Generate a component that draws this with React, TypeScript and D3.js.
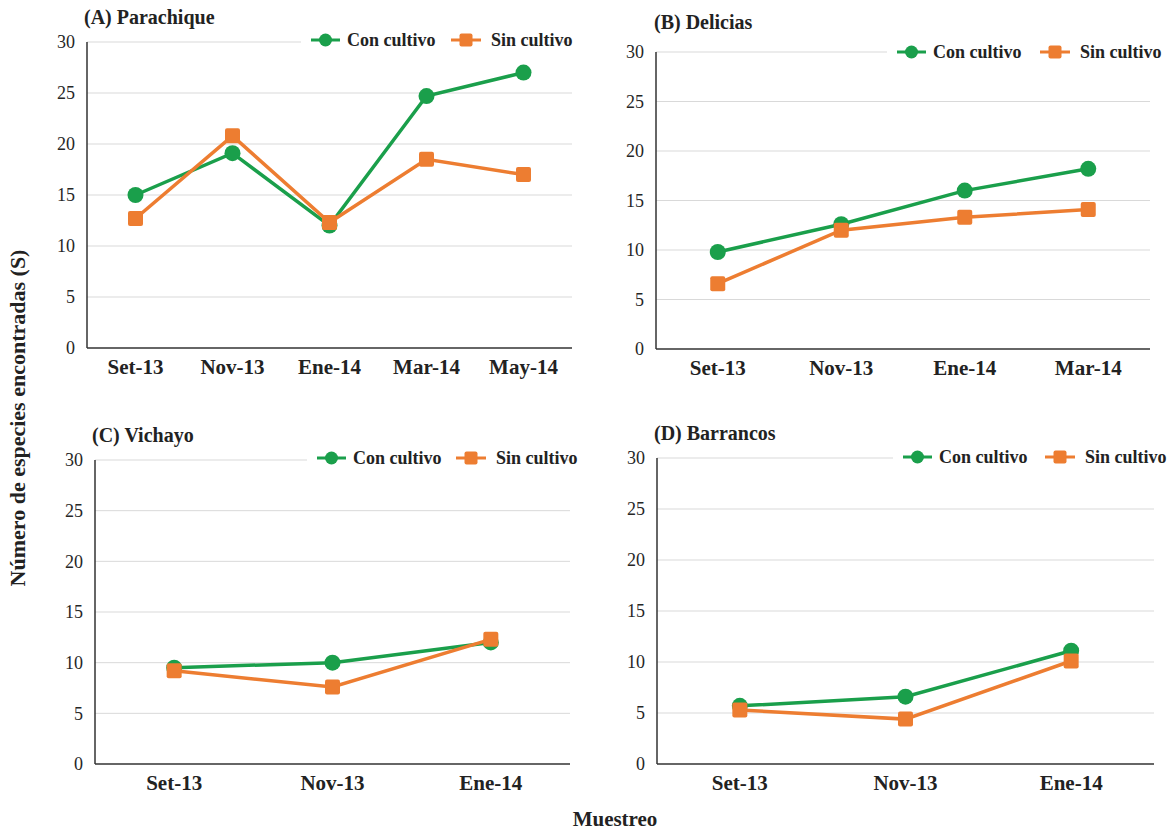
import React from "react";
import * as d3 from "d3";

const categoriesA = ["Set-13", "Nov-13", "Ene-14", "Mar-14", "May-14"];
const conA = [15.0, 19.1, 12.0, 24.7, 27.0];
const sinA = [12.7, 20.8, 12.3, 18.5, 17.0];

const categoriesB = ["Set-13", "Nov-13", "Ene-14", "Mar-14"];
const conB = [9.8, 12.6, 16.0, 18.2];
const sinB = [6.6, 12.0, 13.3, 14.1];

const categoriesC = ["Set-13", "Nov-13", "Ene-14"];
const conC = [9.5, 10.0, 12.0];
const sinC = [9.2, 7.6, 12.3];

const categoriesD = ["Set-13", "Nov-13", "Ene-14"];
const conD = [5.7, 6.6, 11.1];
const sinD = [5.3, 4.4, 10.1];

const yTicks = [0, 5, 10, 15, 20, 25, 30];
const seriesNames = ["Con cultivo", "Sin cultivo"];
const yTitle = "Número de especies encontradas (S)";
const xTitle = "Muestreo";

const GREEN = "#1a9f4b";
const ORANGE = "#ed7d31";
const FONT = "'Times New Roman', Times, 'Liberation Serif', serif";

type PanelCfg = {
  title: string;
  cats: string[];
  con: number[];
  sin: number[];
  x0: number; x1: number; yTop: number; yBot: number;
  titleX: number; titleY: number;
  legX: number; legY: number; legGap: number;
};

const panels: PanelCfg[] = [
  { title: "(A) Parachique", cats: categoriesA, con: conA, sin: sinA,
    x0: 87, x1: 572, yTop: 42, yBot: 348, titleX: 84, titleY: 24,
    legX: 311, legY: 40, legGap: 140 },
  { title: "(B) Delicias", cats: categoriesB, con: conB, sin: sinB,
    x0: 656, x1: 1150, yTop: 52, yBot: 349, titleX: 654, titleY: 29,
    legX: 897, legY: 52, legGap: 143 },
  { title: "(C) Vichayo", cats: categoriesC, con: conC, sin: sinC,
    x0: 95, x1: 570, yTop: 460, yBot: 764, titleX: 92, titleY: 442,
    legX: 317, legY: 458, legGap: 139 },
  { title: "(D) Barrancos", cats: categoriesD, con: conD, sin: sinD,
    x0: 657, x1: 1154, yTop: 458, yBot: 764, titleX: 654, titleY: 440,
    legX: 903, legY: 457, legGap: 142 },
];

function Panel({ p }: { p: PanelCfg }) {
  const x = d3.scaleBand<string>().domain(p.cats).range([p.x0, p.x1]);
  const y = d3.scaleLinear().domain([0, 30]).range([p.yBot, p.yTop]);
  const line = d3.line<number>()
    .x((_, i) => (x(p.cats[i]) as number) + x.bandwidth() / 2)
    .y((d) => y(d));
  const cx = (i: number) => (x(p.cats[i]) as number) + x.bandwidth() / 2;
  return (
    <g>
      {yTicks.map((t) => (
        <g key={t}>
          {t > 0 && (
            <line x1={p.x0} x2={p.x1} y1={y(t)} y2={y(t)} stroke="#d9d9d9" strokeWidth={1} />
          )}
          <text x={p.x0 - 12} y={y(t)} dy="0.35em" textAnchor="end" fontSize={18} fill="#262626">
            {t}
          </text>
        </g>
      ))}
      <line x1={p.x0} x2={p.x0} y1={p.yTop} y2={p.yBot} stroke="#333" strokeWidth={1.5} />
      <line x1={p.x0} x2={p.x1} y1={p.yBot} y2={p.yBot} stroke="#333" strokeWidth={1.5} />
      {p.cats.map((c) => (
        <text key={c} x={(x(c) as number) + x.bandwidth() / 2} y={p.yBot + 26} textAnchor="middle"
          fontSize={21} fontWeight="bold" fill="#222">{c}</text>
      ))}
      <text x={p.titleX} y={p.titleY} fontSize={20} fontWeight="bold" fill="#222">{p.title}</text>
      {/* legend */}
      <rect x={p.legX - 10} y={p.legY - 11} width={p.legGap + 120} height={22} fill="#fff" />
      <g>
        <line x1={p.legX} x2={p.legX + 29} y1={p.legY} y2={p.legY} stroke={GREEN} strokeWidth={3} />
        <circle cx={p.legX + 14.5} cy={p.legY} r={6.5} fill={GREEN} />
        <text x={p.legX + 36} y={p.legY} dy="0.35em" fontSize={18} fontWeight="bold" fill="#222">{seriesNames[0]}</text>
        <line x1={p.legX + p.legGap} x2={p.legX + p.legGap + 30} y1={p.legY} y2={p.legY} stroke={ORANGE} strokeWidth={3} />
        <rect x={p.legX + p.legGap + 8.5} y={p.legY - 6.5} width={13} height={13} rx={2} fill={ORANGE} />
        <text x={p.legX + p.legGap + 40} y={p.legY} dy="0.35em" fontSize={18} fontWeight="bold" fill="#222">{seriesNames[1]}</text>
      </g>
      {/* series */}
      <path d={line(p.con) || ""} fill="none" stroke={GREEN} strokeWidth={3.5} />
      {p.con.map((v, i) => (
        <circle key={i} cx={cx(i)} cy={y(v)} r={8} fill={GREEN} />
      ))}
      <path d={line(p.sin) || ""} fill="none" stroke={ORANGE} strokeWidth={3.5} />
      {p.sin.map((v, i) => (
        <rect key={i} x={cx(i) - 7.5} y={y(v) - 7.5} width={15} height={15} rx={2} fill={ORANGE} />
      ))}
    </g>
  );
}

export default function App() {
  return (
    <div style={{ position: "absolute", left: 0, top: 0 }}>
      <svg width={1170} height={832} style={{ display: "block", fontFamily: FONT }}>
        <rect width={1170} height={832} fill="#fff" />
        {panels.map((p) => (
          <Panel key={p.title} p={p} />
        ))}
        <text transform="translate(25,418) rotate(-90)" textAnchor="middle" fontSize={22}
          fontWeight="bold" fill="#222">{yTitle}</text>
        <text x={615} y={826} textAnchor="middle" fontSize={21} fontWeight="bold" fill="#222">{xTitle}</text>
      </svg>
    </div>
  );
}
